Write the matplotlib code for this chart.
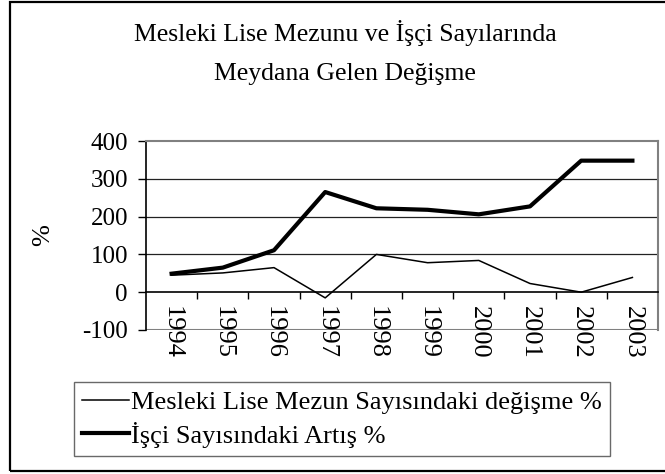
import matplotlib.pyplot as plt
from matplotlib.patches import Rectangle

plt.rcParams['font.family'] = ['Liberation Serif', 'DejaVu Serif']
plt.rcParams['axes.unicode_minus'] = False

yillar = ["1994", "1995", "1996", "1997", "1998", "1999", "2000", "2001", "2002", "2003"]
mezun_degisme = [45, 51, 65, -15, 100, 78, 84, 23, 0, 39]
isci_artis = [49, 65, 111, 265, 222, 218, 206, 227, 348, 348]

W, H = 665, 474
fig = plt.figure(figsize=(W / 100, H / 100), dpi=100)
ax = fig.add_axes([146 / W, 1 - 330 / H, 512 / W, 189 / H])

x = list(range(len(yillar)))
l1, = ax.plot(x, mezun_degisme, color='black', lw=1.1)
l2, = ax.plot(x, isci_artis, color='black', lw=3.0)

ax.set_xlim(-0.5, len(yillar) - 0.5)
ax.set_ylim(-100, 400)
ax.set_yticks([-100, 0, 100, 200, 300, 400])
for v in [100, 200, 300]:
    ax.axhline(v, color='#222222', lw=0.9, zorder=0)
ax.axhline(-100, color='gray', lw=1.5, zorder=0)

# x ekseni sifir cizgisinde
ax.spines['bottom'].set_position(('data', 0))
ax.spines['top'].set_color('gray')
ax.spines['right'].set_color('gray')
ax.spines['top'].set_linewidth(1.5)
ax.spines['right'].set_linewidth(1.5)
ax.spines['left'].set_linewidth(1.2)
ax.spines['bottom'].set_linewidth(1.2)

ax.set_xticks([i - 0.5 for i in range(1, len(yillar))])
ax.set_xticklabels([])
ax.set_xticks(x, minor=True)
ax.set_xticklabels(yillar, minor=True, rotation=-90, fontsize=19)
ax.tick_params(axis='x', which='major', direction='out', length=5, width=1.0)
ax.tick_params(axis='x', which='minor', length=0, pad=10)
ax.tick_params(axis='y', direction='out', length=6, width=1.0, labelsize=18, pad=7)

ax.set_ylabel('%', fontsize=19)
ax.yaxis.set_label_coords(-(146 - 54) / 512, (330 - 235) / 189)

fig.text(345 / W, 1 - 41 / H, 'Mesleki Lise Mezunu ve İşçi Sayılarında',
         ha='center', va='baseline', fontsize=18.5)
fig.text(345 / W, 1 - 80 / H, 'Meydana Gelen Değişme',
         ha='center', va='baseline', fontsize=18.5)

leg = fig.legend([l1, l2], ['Mesleki Lise Mezun Sayısındaki değişme %', 'İşçi Sayısındaki Artış %'],
                 loc='center', bbox_to_anchor=(342 / W, 1 - 419 / H), fontsize=19, frameon=True,
                 fancybox=False, edgecolor='#444444', handlelength=1.8, handletextpad=0.08,
                 borderpad=0.3, labelspacing=0.3, borderaxespad=0)
leg.get_frame().set_linewidth(1.0)

fig.patches.append(Rectangle((10 / W, 3 / H), 1.2, 469 / H, transform=fig.transFigure,
                             fill=False, edgecolor='black', lw=1.6))

fig.savefig('out.png', dpi=100)
